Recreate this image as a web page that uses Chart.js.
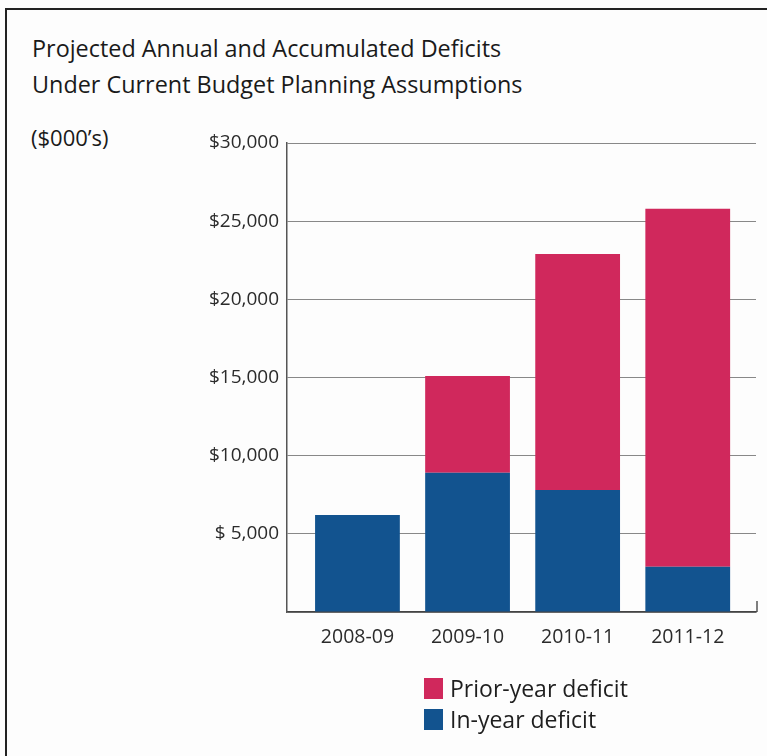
<!DOCTYPE html>
<html>
<head>
<meta charset="utf-8">
<title>Projected Annual and Accumulated Deficits</title>
<script src="https://cdn.jsdelivr.net/npm/chart.js@4.4.1/dist/chart.umd.min.js"></script>
<style>
    html, body { margin: 0; padding: 0; background: #fdfdfd; }
    #panel {
        position: relative;
        width: 767px;
        height: 756px;
        overflow: hidden;
        font-family: 'Open Sans', sans-serif;
        color: #1a1a1a;
    }
    /* marco: solo borde superior e izquierdo */
    #panel .frame-top { position: absolute; left: 5px; top: 8px; right: 0; height: 2px; background: #222; }
    #panel .frame-left { position: absolute; left: 5px; top: 8px; bottom: 0; width: 2px; background: #222; }
    #title {
        position: absolute; left: 32px; top: 30px;
        font-size: 23.4px; line-height: 36px; white-space: nowrap;
    }
    #units {
        position: absolute; left: 31px; top: 120px;
        font-size: 22px; line-height: 35px;
    }
    #chart { position: absolute; left: 0; top: 0; }
    #legend { position: absolute; left: 424px; top: 673px; }
    #legend .row { display: flex; align-items: center; height: 31px; font-size: 23px; line-height: 31px; color: #1e1e1e; }
    #legend .box { width: 19px; height: 21px; margin-right: 7px; }
</style>
</head>
<body>
<div id="panel">
    <div class="frame-top"></div>
    <div class="frame-left"></div>
    <div id="title">Projected Annual and Accumulated Deficits<br>Under Current Budget Planning Assumptions</div>
    <div id="units">($000’s)</div>
    <canvas id="chart" width="767" height="756"></canvas>
    <div id="legend"></div>
</div>

<script>
// ------------------------------------------------------------
// Datos (miles de dólares)
// ------------------------------------------------------------
const categories = ['2008-09', '2009-10', '2010-11', '2011-12'];
const inYearDeficit = [6200, 8900, 7800, 2900];
const priorYearDeficit = [0, 6200, 15100, 22900];
const yTickLabels = ['', '$ 5,000', '$10,000', '$15,000', '$20,000', '$25,000', '$30,000'];

const COLOR_IN_YEAR = '#12538f';
const COLOR_PRIOR = '#d0285c';

Chart.defaults.font.family = "'Open Sans', sans-serif";
Chart.defaults.color = '#2b2b2b';

// las barras van sobre un eje lineal para poder dejar margen a los lados
const toPoints = arr => arr.map((v, i) => ({ x: i, y: v }));

const datasets = [
    {
        label: 'In-year deficit',
        data: toPoints(inYearDeficit),
        backgroundColor: COLOR_IN_YEAR
    },
    {
        label: 'Prior-year deficit',
        data: toPoints(priorYearDeficit),
        backgroundColor: COLOR_PRIOR
    }
];

// pequeña marca vertical al final del eje X
const axisEndTick = {
    id: 'axisEndTick',
    afterDraw(chart) {
        const { ctx, chartArea } = chart;
        ctx.save();
        ctx.strokeStyle = '#555';
        ctx.lineWidth = 1.5;
        ctx.beginPath();
        ctx.moveTo(chartArea.right + 1, chartArea.bottom);
        ctx.lineTo(chartArea.right + 1, chartArea.bottom - 11);
        ctx.stroke();
        ctx.restore();
    }
};

const deficitChart = new Chart(document.getElementById('chart'), {
    type: 'bar',
    data: { datasets: datasets },
    plugins: [axisEndTick],
    options: {
        responsive: false,
        animation: false,
        categoryPercentage: 1,
        barPercentage: 0.77,
        layout: {
            padding: { top: 143, right: 11, bottom: 104, left: 0 }
        },
        plugins: {
            legend: { display: false },
            tooltip: { enabled: false }
        },
        scales: {
            x: {
                type: 'linear',
                stacked: true,
                offset: false,
                min: -0.64,
                max: 3.62,
                grid: { display: false },
                border: { display: true, color: '#444', width: 1.5 },
                ticks: {
                    stepSize: 1,
                    includeBounds: false,
                    padding: 6,
                    font: { size: 19.5 },
                    callback: v => categories[v] ?? ''
                },
                afterFit: scale => { scale.height = 40; }
            },
            y: {
                stacked: true,
                min: 0,
                max: 30000,
                grid: { color: '#888', lineWidth: 1, drawTicks: false },
                border: { display: true, color: '#555', width: 1.5 },
                ticks: {
                    stepSize: 5000,
                    padding: 8,
                    font: { size: 19 },
                    callback: v => yTickLabels[v / 5000]
                },
                afterFit: scale => { scale.width = 287; }
            }
        }
    }
});

// ------------------------------------------------------------
// Leyenda (orden invertido: la serie superior primero)
// ------------------------------------------------------------
function renderLegend(chart) {
    const legend = document.getElementById('legend');
    legend.innerHTML = chart.data.datasets.slice().reverse().map(ds => `
        <div class="row">
            <div class="box" style="background:${ds.backgroundColor};"></div>
            <span>${ds.label}</span>
        </div>
    `).join('');
}

renderLegend(deficitChart);
</script>
</body>
</html>
